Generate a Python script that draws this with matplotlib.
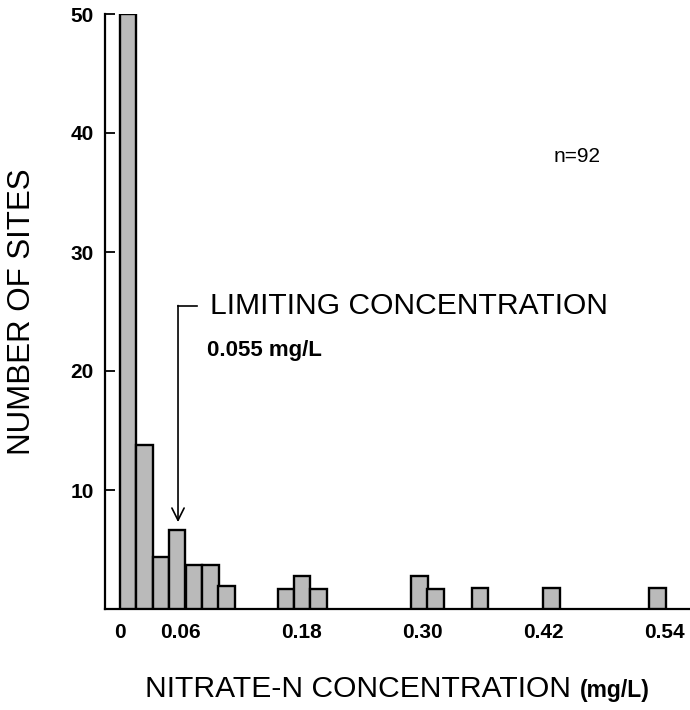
import matplotlib
matplotlib.use("Agg")
import matplotlib.pyplot as plt

# Data (bar heights as drawn on the y scale)
conc = [0.0085, 0.025, 0.041, 0.057, 0.074, 0.090, 0.106,
        0.165, 0.181, 0.197, 0.297, 0.313, 0.357, 0.428, 0.533]
sites = [50, 13.8, 4.4, 6.6, 3.7, 3.7, 1.9,
         1.7, 2.8, 1.7, 2.8, 1.7, 1.8, 1.8, 1.8]
xticks = [0, 0.06, 0.18, 0.30, 0.42, 0.54]
xticklabels = ["0", "0.06", "0.18", "0.30", "0.42", "0.54"]
yticks = [10, 20, 30, 40, 50]
limit_conc = 0.058
limit_y = 7.3

plt.rcParams['font.family'] = ['Liberation Sans', 'DejaVu Sans']

fig = plt.figure(figsize=(6.9, 7.1), dpi=100)
ax = fig.add_axes([105/690, 101/710, 585/690, 595/710])

ax.bar(conc, sites, width=0.0163, color='#bababa', edgecolor='black', linewidth=1.7, zorder=3)

ax.set_xlim(-0.0143, 0.565)
ax.set_ylim(0, 50)
for s in ['top', 'right']:
    ax.spines[s].set_visible(False)
ax.spines['left'].set_linewidth(1.6)
ax.spines['bottom'].set_linewidth(1.6)

ax.set_yticks(yticks)
ax.set_yticklabels([str(v) for v in yticks], fontsize=15, fontweight='bold')
ax.tick_params(axis='y', direction='in', length=7, width=1.3, pad=8)
ax.set_xticks(xticks)
ax.set_xticklabels(xticklabels, fontsize=15, fontweight='bold')
ax.tick_params(axis='x', length=0, pad=10)

# annotation bracket + arrow
ax.annotate('', xy=(limit_conc, limit_y), xytext=(limit_conc, 25.5),
            arrowprops=dict(arrowstyle='->', lw=1.2, color='black',
                            mutation_scale=22, shrinkA=0, shrinkB=0))
ax.plot([limit_conc, 0.0768], [25.5, 25.5], color='black', lw=1.2)
ax.text(0.0895, 25.5, "LIMITING CONCENTRATION", fontsize=21.6, va='center', ha='left')
ax.text(0.087, 21.7, "0.055 mg/L", fontsize=16, fontweight='bold', va='center', ha='left')
ax.text(0.43, 38.0, "n=92", fontsize=15, va='center', ha='left')

fig.text(22/690, 1 - 312/710, "NUMBER OF SITES", rotation=90, fontsize=22.5,
         va='center', ha='center')
t1 = fig.text(145/690, 1 - 689/710, "NITRATE-N CONCENTRATION", fontsize=21.6,
              va='center', ha='left')
fig.canvas.draw()
bb = t1.get_window_extent()
fig.text((bb.x1 + 9)/690, 1 - 691/710, "(mg/L)", fontsize=16.5, fontweight='bold',
         va='center', ha='left')

fig.savefig("out.png", dpi=100)
